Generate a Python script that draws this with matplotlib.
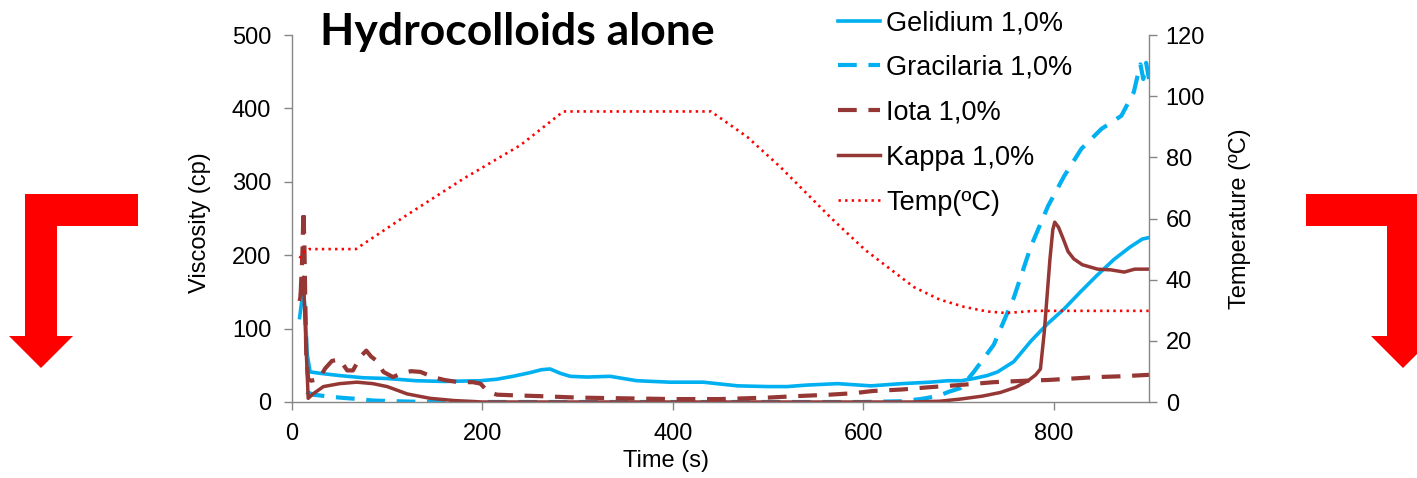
import matplotlib
matplotlib.use("Agg")
import matplotlib.pyplot as plt
from matplotlib.patches import Polygon

# ---------------- data ----------------
time_gel = [8, 10, 12, 14, 16, 19, 30, 50, 75, 100, 130, 160, 198, 215, 232, 250, 262, 271, 282, 292, 310, 334, 362, 397, 432, 468, 500, 520, 540, 573, 608, 640, 670, 689, 703, 716, 730, 741, 758, 776, 793, 811, 828, 845, 863, 880, 893, 900]
visc_gel = [115, 135, 155, 120, 65, 41, 39, 36, 33, 32, 29, 28, 29, 31, 35, 40, 44, 45, 39, 35, 34, 35, 29, 27, 27, 22, 21, 21, 23, 25, 22, 25, 27, 29, 29, 32, 36, 41, 55, 83, 106, 127, 150, 172, 194, 211, 222, 224]

time_gra = [15, 22, 35, 50, 70, 85, 110, 140, 200, 400, 600, 640, 660, 678, 690, 702, 716, 737, 758, 776, 794, 811, 829, 850, 871, 884, 889, 891, 894, 897, 900]
visc_gra = [14, 10, 8, 6, 4, 2, 1, 0, 0, 0, 0, 1, 4, 8, 14, 19, 41, 78, 142, 212, 267, 308, 345, 372, 390, 422, 450, 460, 440, 462, 440]

time_iot = [9, 11, 12, 13, 14, 15, 17, 20, 28, 35, 42, 50, 58, 64, 72, 78, 83, 89, 96, 106, 115, 125, 135, 148, 160, 175, 190, 198, 205, 215, 235, 260, 300, 350, 400, 450, 500, 530, 565, 590, 610, 640, 668, 700, 737, 770, 794, 820, 846, 870, 900]
visc_iot = [145, 205, 262, 215, 135, 62, 31, 29, 31, 46, 56, 58, 43, 43, 62, 70, 62, 56, 41, 34, 39, 42, 41, 34, 30, 27, 27, 25, 15, 10, 9, 8, 6, 5, 4, 4, 6, 8, 10, 12, 15, 17, 20, 23, 27, 29, 30, 32, 34, 35, 37]

time_kap = [8, 10, 12, 14, 17, 22, 33, 50, 68, 85, 100, 121, 145, 170, 200, 300, 500, 650, 680, 702, 725, 744, 760, 773, 781, 786, 790, 793, 796, 799, 801, 805, 810, 815, 821, 830, 846, 860, 874, 885, 900]
visc_kap = [140, 155, 170, 100, 5, 11, 21, 25, 27, 25, 21, 11, 5, 2, 0, 0, 0, 0, 1, 4, 8, 13, 20, 29, 37, 45, 95, 145, 195, 235, 245, 238, 222, 205, 195, 187, 181, 180, 177, 181, 181]

time_tmp = [8, 12, 18, 40, 67, 120, 180, 240, 285, 440, 478, 513, 566, 602, 653, 680, 706, 730, 750, 780, 900]
temp_c = [47, 49, 50, 50, 50, 61, 73, 84, 95, 95, 86.7, 76.8, 60.2, 49.7, 37.6, 33.5, 31.1, 29.6, 29.1, 29.8, 29.8]

series_labels = ["Gelidium 1,0%", "Gracilaria 1,0%", "Iota 1,0%", "Kappa 1,0%", "Temp(ºC)"]
x_ticks = [0, 200, 400, 600, 800]
y_ticks = [0, 100, 200, 300, 400, 500]
t_ticks = [0, 20, 40, 60, 80, 100, 120]

# ---------------- style ----------------
W, H = 1417, 478
CYAN = "#00B0F0"
BROWN = "#953735"
RED = "#FF0000"
GRAY = "#868686"
FONT = "Liberation Sans"
FS = 17
LFS = 19.5

plt.rcParams["font.family"] = [FONT, "DejaVu Sans"]

fig = plt.figure(figsize=(W / 100, H / 100), dpi=100)
ax = fig.add_axes([292 / W, 1 - 402 / H, (1149 - 292) / W, (402 - 35) / H])
ax2 = ax.twinx()

l1, = ax.plot(time_gel, visc_gel, color=CYAN, lw=2.6, solid_joinstyle="round")
l2, = ax.plot(time_gra, visc_gra, color=CYAN, lw=3.0, dashes=(4.5, 2.8))
l3, = ax.plot(time_iot, visc_iot, color=BROWN, lw=3.0, dashes=(4.5, 2.8))
l4, = ax.plot(time_kap, visc_kap, color=BROWN, lw=2.5, solid_joinstyle="round")
l5, = ax2.plot(time_tmp, temp_c, color=RED, lw=1.9, dashes=(0.9, 1.6))

ax.set_xlim(0, 900)
ax.set_ylim(0, 500)
ax2.set_ylim(0, 120)
ax.set_xticks(x_ticks)
ax.set_yticks(y_ticks)
ax2.set_yticks(t_ticks)

for a in (ax, ax2):
    for s in a.spines.values():
        s.set_color(GRAY)
        s.set_linewidth(1.0)
    a.spines["top"].set_visible(False)
ax.spines["right"].set_visible(False)
ax2.spines["left"].set_visible(False)
ax2.spines["bottom"].set_visible(False)

ax.tick_params(axis="both", direction="out", length=6, width=1, color=GRAY,
               labelsize=FS, labelcolor="black")
ax.tick_params(axis="y", pad=9)
ax.tick_params(axis="x", pad=9)
ax2.tick_params(axis="y", direction="out", length=6, width=1, color=GRAY,
                labelsize=FS, labelcolor="black", pad=6)

ax.set_xlabel("Time (s)", fontsize=FS)
ax.xaxis.set_label_coords((666 - 292) / (1149 - 292), -0.13)
ax.set_ylabel("Viscosity (cp)", fontsize=FS)
ax.yaxis.set_label_coords(-(292 - 211) / (1149 - 292), 0.49)
ax2.set_ylabel("Temperature (ºC)", fontsize=FS)
ax2.yaxis.set_label_coords(1 + (1229 - 1149) / (1149 - 292), 0.5)

fig.text(517 / W, 1 - 32 / H, "Hydrocolloids alone", fontsize=32, fontweight="bold",
         family=["Lato", "DejaVu Sans"], ha="center", va="center")

fig.legend([l1, l2, l3, l4, l5], series_labels, loc="upper left",
           bbox_to_anchor=(838 / W, 1 - 10 / H), frameon=False, fontsize=LFS,
           handlelength=1.55, handletextpad=0.22, labelspacing=0.70,
           borderpad=0, borderaxespad=0)

# decorative red bent arrows
left_arrow = [(25, 194), (138, 194), (138, 226), (57, 226), (57, 336), (73, 336),
              (41, 368), (9, 336), (25, 336)]
right_arrow = [(1306, 194), (1419, 194), (1419, 336), (1435, 336), (1403, 368),
               (1371, 336), (1387, 336), (1387, 226), (1306, 226)]
for poly in (left_arrow, right_arrow):
    pts = [(px / W, 1 - py / H) for px, py in poly]
    fig.patches.append(Polygon(pts, closed=True, transform=fig.transFigure,
                               facecolor=RED, edgecolor="none"))

fig.savefig("out.png", dpi=100)
